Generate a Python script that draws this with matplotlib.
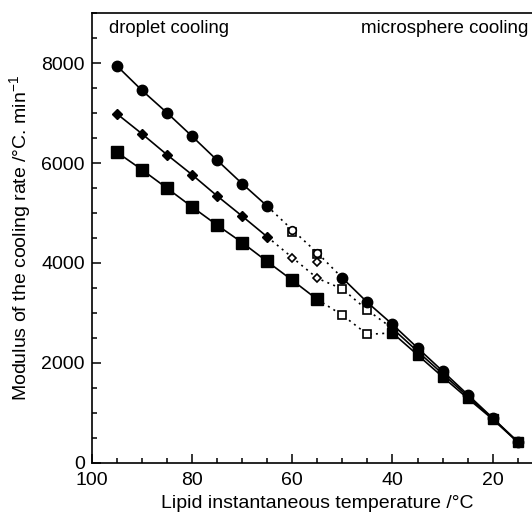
import matplotlib
matplotlib.use("Agg")
import matplotlib.pyplot as plt
from matplotlib.ticker import MultipleLocator

plt.rcParams['font.family'] = ['Liberation Sans', 'DejaVu Sans']
plt.rcParams['mathtext.fontset'] = 'custom'
plt.rcParams['mathtext.rm'] = 'Liberation Sans'

# droplet cooling (filled, solid)
drop_T_circ = [95, 90, 85, 80, 75, 70, 65]
drop_circ = [7950, 7460, 7010, 6540, 6060, 5590, 5140]
drop_T_diam = [95, 90, 85, 80, 75, 70, 65]
drop_diam = [6990, 6590, 6170, 5770, 5345, 4940, 4525]
drop_T_sq = [95, 90, 85, 80, 75, 70, 65, 60, 55]
drop_sq = [6220, 5870, 5500, 5125, 4760, 4410, 4030, 3655, 3270]

# transition (open, dotted)
tr_T_circ = [65, 60, 55, 50]
tr_circ = [5140, 4665, 4205, 3700]
tr_T_diam = [65, 60, 55, 50, 45, 40]
tr_diam = [4525, 4110, 3695, 3480, 3056, 2690]
tr_T_sq = [55, 50, 45, 40]
tr_sq = [3270, 2956, 2570, 2600]

open_T_circ = [60, 55]
open_circ = [4670, 4210]
open_T_diam = [60, 55, 55]
open_diam = [4110, 3695, 4010]
open_T_sq = [60, 55, 50, 45, 50, 45]
open_sq = [4630, 4180, 3480, 3056, 2956, 2570]

# microsphere cooling (filled, solid)
mic_T_circ = [50, 45, 40, 35, 30, 25, 20, 15]
mic_circ = [3700, 3210, 2770, 2300, 1835, 1365, 895, 420]
mic_T_diam = [40, 35, 30, 25, 20, 15]
mic_diam = [2690, 2230, 1780, 1330, 885, 415]
mic_T_sq = [40, 35, 30, 25, 20, 15]
mic_sq = [2600, 2160, 1720, 1290, 870, 410]

fig = plt.figure(figsize=(5.32, 5.14), dpi=100)
ax = fig.add_axes([0.1724, 0.0998, 0.848, 0.8742])

k = 'black'
dot = (0, (1.2, 2.6))
# dotted transitions
ax.plot(tr_T_circ, tr_circ, color=k, lw=1.2, ls=dot, zorder=1)
ax.plot(tr_T_diam, tr_diam, color=k, lw=1.2, ls=dot, zorder=1)
ax.plot(tr_T_sq, tr_sq, color=k, lw=1.2, ls=dot, zorder=1)

# droplet lines
ax.plot(drop_T_circ, drop_circ, color=k, lw=1.2, marker='o', ms=7.5, zorder=3)
ax.plot(drop_T_diam, drop_diam, color=k, lw=1.2, marker='D', ms=5, zorder=3)
ax.plot(drop_T_sq, drop_sq, color=k, lw=1.2, marker='s', ms=8, zorder=3)

# microsphere lines
ax.plot(mic_T_circ, mic_circ, color=k, lw=1.2, marker='o', ms=7.5, zorder=3)
ax.plot(mic_T_diam, mic_diam, color=k, lw=1.2, marker='D', ms=5, zorder=3)
ax.plot(mic_T_sq, mic_sq, color=k, lw=1.2, marker='s', ms=7.5, zorder=3)

# open markers
ax.plot(open_T_sq, open_sq, ls='none', marker='s', ms=6, mfc='white', mec=k, mew=1.2, zorder=2)
ax.plot(open_T_circ, open_circ, ls='none', marker='o', ms=5.5, mfc='white', mec=k, mew=1.2, zorder=2)
ax.plot(open_T_diam, open_diam, ls='none', marker='D', ms=4.5, mfc='white', mec=k, mew=1.2, zorder=2)

ax.set_xlim(100, 10)
ax.set_ylim(0, 9000)
ax.xaxis.set_major_locator(MultipleLocator(20))
ax.xaxis.set_minor_locator(MultipleLocator(5))
ax.yaxis.set_major_locator(MultipleLocator(2000))
ax.yaxis.set_minor_locator(MultipleLocator(500))
ax.tick_params(which='both', direction='in', top=False, right=False, width=1.1, labelsize=14)
ax.tick_params(which='major', length=6.5)
ax.tick_params(axis='x', which='major', pad=7)
ax.tick_params(axis='y', which='major', pad=5)
ax.tick_params(which='minor', length=3.8)
for s in ax.spines.values():
    s.set_linewidth(1.2)

ax.set_xlabel('Lipid instantaneous temperature /°C', fontsize=14, labelpad=4)
ax.set_ylabel('Modulus of the cooling rate /°C. min$^{-1}$', fontsize=14, labelpad=5)

ax.text(96.5, 8700, 'droplet cooling', fontsize=13.3, va='center', ha='left')
ax.text(46.2, 8700, 'microsphere cooling', fontsize=13.5, va='center', ha='left')

fig.savefig('out.png', dpi=100)
